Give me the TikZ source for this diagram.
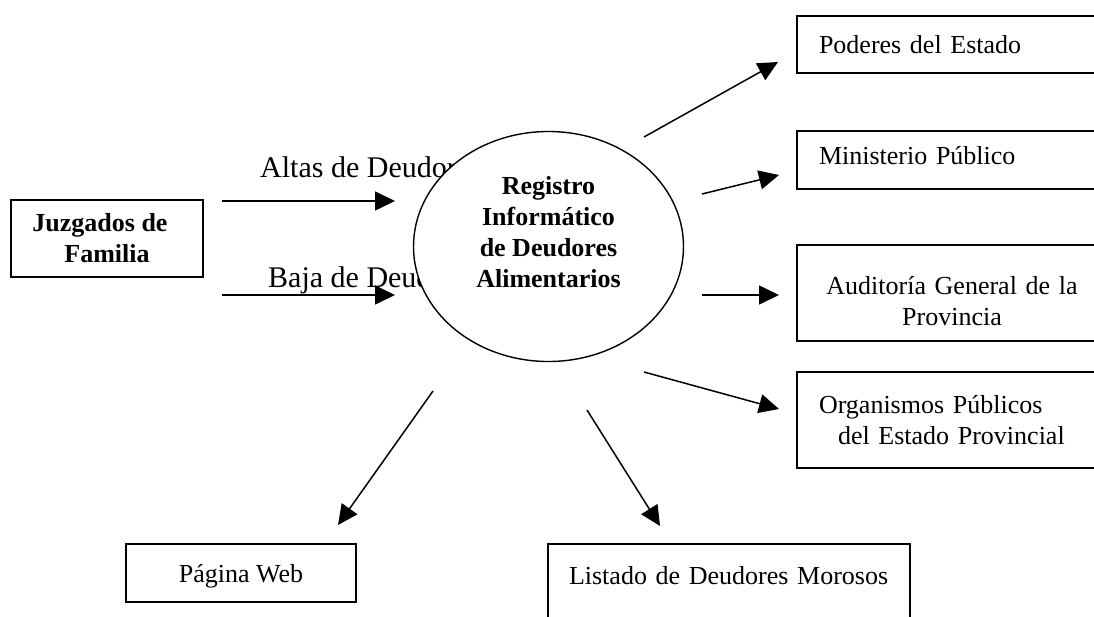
\documentclass[tikz,border=0pt]{standalone}
\usepackage{fontspec}
\setmainfont{Liberation Serif}
\usetikzlibrary{arrows.meta,shapes.geometric}
\begin{document}
\begin{tikzpicture}[x=1pt,y=-1pt,
  box/.style={draw, line width=1.4pt, rectangle, inner sep=0pt, font=\fontsize{26}{31}\selectfont},
  leftbox/.style={box, align=left, inner xsep=22pt, text width=266pt, minimum width=310pt},
  centbox/.style={box, align=center, text width=266pt, inner xsep=22pt, minimum width=310pt},
  arr/.style={line width=1.5pt, -{Triangle[length=20pt,width=19pt]}},
  lbl/.style={font=\fontsize{30}{36}\selectfont, inner sep=0pt, anchor=base west},
]
\useasboundingbox (0,0) rectangle (1094,616);
\clip (0,0) rectangle (1094,616);

% flow labels (partly hidden by the process ellipse)
\node[lbl] (altas) at (260,177) {Altas de Deudores};
\node[lbl] (baja) at (268,287) {Baja de Deudores};

% central process
\node[draw, ellipse, fill=white, line width=1.4pt, minimum width=270pt, minimum height=230pt, inner sep=0pt] (reg) at (548.5,246.5) {};
\node[font=\bfseries\fontsize{26}{31}\selectfont, align=center, inner sep=0pt] (regtxt) at (548.5,232.6) {Registro\\Informático\\de Deudores\\Alimentarios};

% external entities
\node[box, font=\bfseries\fontsize{26}{31}\selectfont, align=center, minimum width=192pt, minimum height=77pt] (juz) at (107,238.5) {Juzgados de\hspace*{14pt}\\Familia};
\node[leftbox, minimum height=57pt] (pod) at (952,44.5) {Poderes del Estado};
\node[leftbox, minimum height=58pt, text depth=10pt] (min) at (952,160) {Ministerio Público};
\node[centbox, minimum height=96pt, text depth=16pt] (aud) at (952,293) {Auditoría General de la\\Provincia};
\node[leftbox, minimum height=96pt, text depth=32pt] (org) at (952,420) {Organismos Públicos\\\hspace*{19pt}del Estado Provincial};
\node[box, align=center, minimum width=230pt, minimum height=58pt, text height=23.8pt] (web) at (241,573) {Página Web};
\node[box, align=left, inner xsep=21pt, text width=320pt, minimum width=362pt, minimum height=80pt, text depth=18pt] (lis) at (729,584) {Listado de Deudores Morosos};

% connector ends
\coordinate (c1s) at (222,201); \coordinate (c1e) at (395,201);
\coordinate (c2s) at (222,295); \coordinate (c2e) at (395,295);
\coordinate (c3s) at (644,137); \coordinate (c3e) at (778,62);
\coordinate (c4s) at (702,194); \coordinate (c4e) at (779,175);
\coordinate (c5s) at (702,295); \coordinate (c5e) at (779,295);
\coordinate (c6s) at (644,372); \coordinate (c6e) at (779,409);
\coordinate (c7s) at (433,391); \coordinate (c7e) at (338,525);
\coordinate (c8s) at (587,410); \coordinate (c8e) at (660,526);

\draw[arr] (c1s) -- (c1e);
\draw[arr] (c2s) -- (c2e);
\draw[arr] (c3s) -- (c3e);
\draw[arr] (c4s) -- (c4e);
\draw[arr] (c5s) -- (c5e);
\draw[arr] (c6s) -- (c6e);
\draw[arr] (c7s) -- (c7e);
\draw[arr] (c8s) -- (c8e);
\end{tikzpicture}
\end{document}
